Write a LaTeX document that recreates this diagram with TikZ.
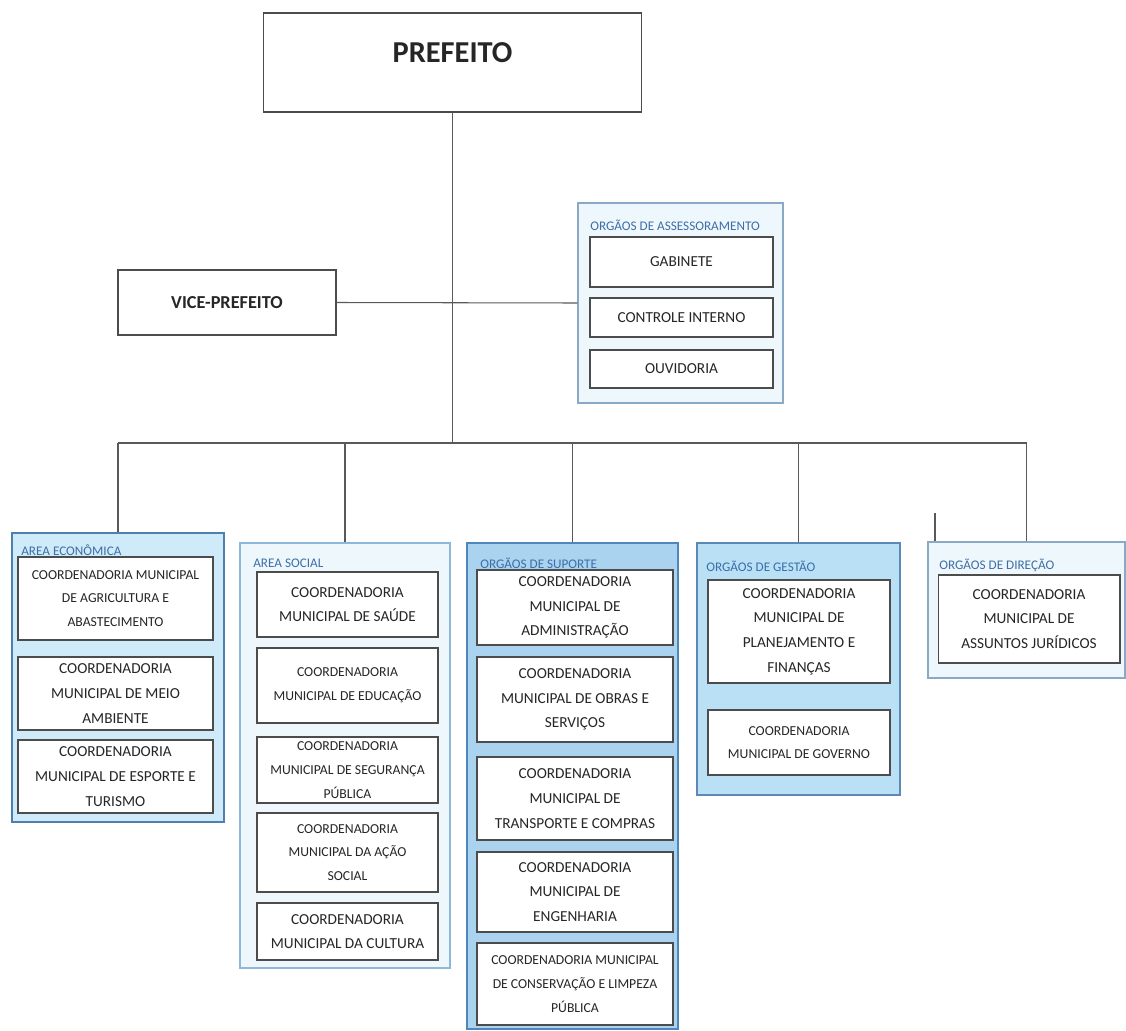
\documentclass[tikz,border=0pt]{standalone}
\usepackage{fontspec}
\setmainfont{Carlito}
\definecolor{tagblue}{HTML}{3D6EA8}
\definecolor{econfill}{HTML}{CFEAF8}
\definecolor{econdraw}{HTML}{4F7FAE}
\definecolor{socfill}{HTML}{EEF7FC}
\definecolor{socdraw}{HTML}{8FB8D8}
\definecolor{supfill}{HTML}{A9D3EF}
\definecolor{supdraw}{HTML}{4F86BB}
\definecolor{gesfill}{HTML}{B9E0F4}
\definecolor{gesdraw}{HTML}{5D8AB5}
\definecolor{dirfill}{HTML}{EEF7FB}
\definecolor{dirdraw}{HTML}{8AA9C4}

\begin{document}
\begin{tikzpicture}[x=0.02cm, y=-0.02cm,
    link/.style={draw=black!65, line width=0.6pt},
    grp/.style={draw, line width=0.7pt, inner sep=0pt},
    unit/.style={draw=black!70, line width=0.6pt, fill=white, align=center, inner sep=0pt,
      text=black!85, font=\fontsize{8.7}{14}\selectfont},
    unitsm/.style={unit, font=\fontsize{7.8}{13.5}\selectfont},
    tag/.style={anchor=west, inner sep=0pt, text=tagblue, font=\fontsize{7.5}{8}\selectfont}]
    \useasboundingbox (0,0) rectangle (1126,1031);

    \node[unit, minimum width=7.58cm, minimum height=1.98cm, text height=0.36cm, text depth=0.36cm,
      font=\bfseries\fontsize{17.3}{19}\selectfont] (pref) at (452.5,62.5) {PREFEITO};
    \node[unit, minimum width=4.36cm, minimum height=1.3cm,
      font=\bfseries\fontsize{10.4}{12}\selectfont] (vice) at (227,302.5) {VICE-PREFEITO};

    \node[grp, draw=dirdraw, fill=dirfill, minimum width=4.1cm, minimum height=4cm] (asses) at (680.5,303) {};
    \node[tag] (asseslbl) at (590,225) {ORGÃOS DE ASSESSORAMENTO};
    \node[unit, minimum width=3.66cm, minimum height=1cm] (gab) at (681.5,262) {GABINETE};
    \node[unit, minimum width=3.66cm, minimum height=0.78cm] (ctrl) at (681.5,317.5) {CONTROLE INTERNO};
    \node[unit, minimum width=3.66cm, minimum height=0.76cm] (ouv) at (681.5,369) {OUVIDORIA};

    \node[grp, draw=econdraw, fill=econfill, minimum width=4.24cm, minimum height=5.78cm] (econ) at (118,677.5) {};
    \node[tag] (econlbl) at (21,550) {AREA ECONÔMICA};
    \node[unitsm, minimum width=3.9cm, minimum height=1.66cm] (agri) at (115.5,598.5)
      {COORDENADORIA MUNICIPAL\\DE AGRICULTURA E\\ABASTECIMENTO};
    \node[unit, minimum width=3.9cm, minimum height=1.46cm] (meio) at (115.5,693.5)
      {COORDENADORIA\\MUNICIPAL DE MEIO\\AMBIENTE};
    \node[unit, minimum width=3.9cm, minimum height=1.46cm] (esp) at (115.5,776.5)
      {COORDENADORIA\\MUNICIPAL DE ESPORTE E\\TURISMO};

    \node[grp, draw=socdraw, fill=socfill, minimum width=4.2cm, minimum height=8.5cm] (soc) at (345,755.5) {};
    \node[tag] (soclbl) at (253,563) {AREA SOCIAL};
    \node[unit, minimum width=3.62cm, minimum height=1.3cm] (saude) at (347.5,604.5)
      {COORDENADORIA\\MUNICIPAL DE SAÚDE};
    \node[unitsm, minimum width=3.62cm, minimum height=1.5cm] (educ) at (347.5,685.5)
      {COORDENADORIA\\MUNICIPAL DE EDUCAÇÃO};
    \node[unitsm, minimum width=3.62cm, minimum height=1.32cm] (seg) at (347.5,770)
      {COORDENADORIA\\MUNICIPAL DE SEGURANÇA\\PÚBLICA};
    \node[unitsm, minimum width=3.62cm, minimum height=1.58cm] (acao) at (347.5,852.5)
      {COORDENADORIA\\MUNICIPAL DA AÇÃO\\SOCIAL};
    \node[unit, minimum width=3.62cm, minimum height=1.14cm] (cult) at (347.5,931.5)
      {COORDENADORIA\\MUNICIPAL DA CULTURA};

    \node[grp, draw=supdraw, fill=supfill, minimum width=4.22cm, minimum height=9.72cm] (sup) at (572.5,786) {};
    \node[tag] (suplbl) at (480,563) {ORGÃOS DE SUPORTE};
    \node[unit, minimum width=3.92cm, minimum height=1.5cm] (adm) at (575,607.5)
      {COORDENADORIA\\MUNICIPAL DE\\ADMINISTRAÇÃO};
    \node[unit, minimum width=3.92cm, minimum height=1.7cm] (obras) at (575,699.5)
      {COORDENADORIA\\MUNICIPAL DE OBRAS E\\SERVIÇOS};
    \node[unit, minimum width=3.92cm, minimum height=1.66cm] (transp) at (575,798.5)
      {COORDENADORIA\\MUNICIPAL DE\\TRANSPORTE E COMPRAS};
    \node[unit, minimum width=3.92cm, minimum height=1.6cm] (eng) at (575,892)
      {COORDENADORIA\\MUNICIPAL DE\\ENGENHARIA};
    \node[unitsm, minimum width=3.92cm, minimum height=1.64cm] (limp) at (575,984)
      {COORDENADORIA MUNICIPAL\\DE CONSERVAÇÃO E LIMPEZA\\PÚBLICA};

    \node[grp, draw=gesdraw, fill=gesfill, minimum width=4.06cm, minimum height=5.04cm] (ges) at (798.5,669) {};
    \node[tag] (geslbl) at (706,566) {ORGÃOS DE GESTÃO};
    \node[unit, minimum width=3.64cm, minimum height=2.06cm] (plan) at (799,631.5)
      {COORDENADORIA\\MUNICIPAL DE\\PLANEJAMENTO E\\FINANÇAS};
    \node[unitsm, minimum width=3.64cm, minimum height=1.3cm] (gov) at (799,742.5)
      {COORDENADORIA\\MUNICIPAL DE GOVERNO};

    \node[grp, draw=dirdraw, fill=dirfill, minimum width=3.94cm, minimum height=2.72cm] (dir) at (1026.5,610) {};
    \node[tag] (dirlbl) at (939,565) {ORGÃOS DE DIREÇÃO};
    \node[unit, minimum width=3.64cm, minimum height=1.76cm] (jur) at (1029,619)
      {COORDENADORIA\\MUNICIPAL DE\\ASSUNTOS JURÍDICOS};

    \coordinate (bus) at (452.5,443);
    \coordinate (stub) at (935,513);
    \draw[link] (pref.south) -- (bus);
    \draw[link] (vice.east) -- (asses.west);
    \draw[link] (econ.north |- bus) -- (dir.north |- bus);
    \foreach \grpname in {econ, soc, sup, ges, dir}
      \draw[link] (\grpname.north |- bus) -- (\grpname.north);
    \draw[link] (stub) -- (stub |- dir.north);
\end{tikzpicture}
\end{document}
